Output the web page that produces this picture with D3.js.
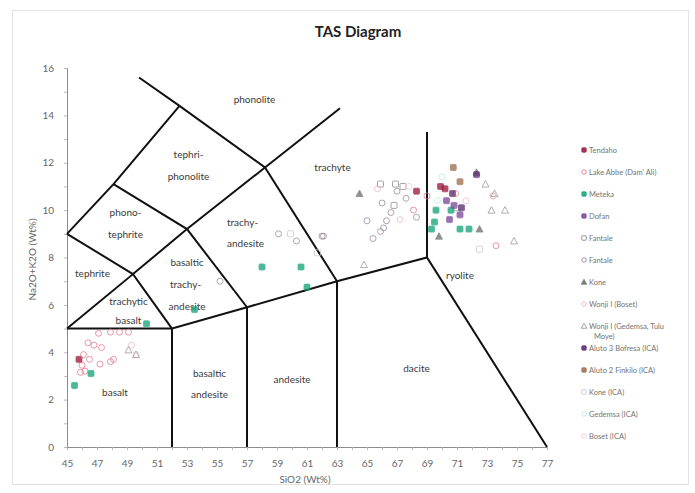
<!DOCTYPE html>
<html>
<head>
<meta charset="utf-8">
<script src="https://cdn.jsdelivr.net/npm/d3@7"></script>
<style>
  html, body { margin: 0; padding: 0; background: #fff; }
  svg { display: block; font-family: Lato, "Open Sans", sans-serif; }
</style>
</head>
<body>
<svg id="chart" width="695" height="493"></svg>
<script>
// Axis ticks
const xTicks = [45, 47, 49, 51, 53, 55, 57, 59, 61, 63, 65, 67, 69, 71, 73, 75, 77];
const yTicks = [0, 2, 4, 6, 8, 10, 12, 14, 16];

// TAS field boundaries (SiO2, Na2O+K2O)
const boundaries = [
  [[45, 5], [52, 5]],
  [[52, 0], [52, 5], [57, 5.9], [63, 7], [69, 8], [77, 0]],
  [[57, 0], [57, 5.9]],
  [[63, 0], [63, 7]],
  [[69, 8], [69, 13.3]],
  [[45, 5], [49.4, 7.3], [52, 5]],
  [[45, 9], [49.4, 7.3]],
  [[49.4, 7.3], [53, 9.2], [58.2, 11.8], [63.2, 14.3]],
  [[45, 9], [48.1, 11.1], [52.5, 14.4]],
  [[48.1, 11.1], [53, 9.2], [57, 5.9]],
  [[49.8, 15.6], [52.5, 14.4], [58.2, 11.8], [63, 7]]
];

// Rock field names
const fieldNames = ["phonolite", "tephri-", "phonolite", "phono-", "tephrite", "tephrite",
  "trachyte", "trachy-", "andesite", "basaltic", "trachy-", "andesite", "trachytic", "basalt",
  "basalt", "basaltic", "andesite", "andesite", "dacite", "ryolite"];
const fieldSiO2 = [57.5, 53.1, 53.1, 48.9, 48.9, 46.7, 62.7, 56.7, 56.9, 53.0, 52.9, 53.0, 49.1, 49.1,
  48.2, 54.5, 54.5, 60.0, 68.3, 71.2];
const fieldAlk = [14.65, 12.33, 11.4, 9.88, 8.99, 7.34, 11.78, 9.46, 8.61, 7.77, 6.84, 5.95, 6.16, 5.32,
  2.28, 3.12, 2.2, 2.83, 3.33, 7.26];

// Sample series
const seriesNames = ["Tendaho", "Lake Abbe (Dam' Ali)", "Meteka", "Dofan", "Fantale", "Fantale", "Kone",
  "Wonji I (Boset)", "Wonji I (Gedemsa, Tulu Moye)", "Aluto 3 Bofresa (ICA)", "Aluto 2 Finkilo (ICA)",
  "Kone (ICA)", "Gedemsa (ICA)", "Boset (ICA)"];
const seriesShapes = ["square", "circle", "square", "square", "square", "circle", "triangle",
  "circle", "triangle", "square", "square", "square", "circle", "circle"];
const seriesFilled = [true, false, true, true, false, false, true, false, false, true, true, false, false, false];
const seriesColors = ["#9e1c3c", "#e07890", "#18a67c", "#7d4a9c", "#8a8a8a", "#9a8a9a", "#707070",
  "#f0b8c4", "#9a9a9a", "#5e2f72", "#a07050", "#c8c8c8", "#b8ece0", "#f2c8d2"];

const tendaho = [[45.8, 3.7], [69.9, 11.0], [68.3, 10.8], [70.2, 10.9]];
const lakeAbbe = [[46.4, 4.4], [46.8, 4.3], [47.3, 4.2], [46.1, 3.9], [46.5, 3.7], [46.0, 3.45],
  [47.2, 3.5], [47.9, 3.6], [48.1, 3.7], [46.2, 3.2], [45.9, 3.15], [47.9, 4.85], [48.5, 4.85],
  [49.1, 4.85], [47.1, 4.8], [68.1, 10.0], [69.0, 10.6], [70.9, 10.7], [73.4, 10.6], [73.6, 8.5]];
const meteka = [[45.5, 2.6], [46.6, 3.1], [50.3, 5.2], [53.5, 5.8], [58.0, 7.6], [60.6, 7.6], [61.0, 6.75],
  [69.6, 10.0], [69.5, 9.5], [69.3, 9.2], [71.2, 9.2], [71.8, 9.2], [70.6, 10.0]];
const dofan = [[70.3, 10.4], [71.2, 9.8], [70.8, 10.2], [70.5, 9.6]];
const fantaleSq = [[66.9, 11.1], [65.9, 11.1], [66.8, 10.2], [67.4, 11.0]];
const fantaleCi = [[66.3, 9.55], [66.1, 9.25], [65.9, 9.1], [65.0, 9.55], [62.1, 8.9], [59.1, 9.0],
  [60.3, 8.7], [62.0, 8.9], [55.2, 7.0], [67.0, 10.8], [68.3, 9.7], [66.0, 10.3], [67.6, 10.5],
  [65.4, 8.8], [66.6, 9.9]];
const kone = [[72.5, 9.2], [72.3, 11.6], [64.5, 10.7], [69.8, 8.9]];
const wonjiBoset = [[49.3, 4.3], [49.6, 3.9], [65.7, 10.9], [67.2, 9.6], [71.6, 10.4]];
const wonjiGedemsa = [[73.3, 10.0], [74.2, 10.0], [73.5, 10.7], [74.8, 8.7], [49.1, 4.1], [49.6, 3.9],
  [64.8, 7.7], [72.9, 11.1], [71.0, 10.1]];
const aluto3 = [[72.3, 11.5], [70.7, 10.7], [71.3, 10.1]];
const aluto2 = [[70.75, 11.8], [71.2, 11.2]];
const koneIca = [[72.5, 8.35], [61.7, 8.2], [59.9, 9.0]];
const gedemsaIca = [[70.0, 11.4], [69.7, 10.4]];
const bosetIca = [[73.4, 10.6], [67.8, 11.0]];

const seriesData = [tendaho, lakeAbbe, meteka, dofan, fantaleSq, fantaleCi, kone, wonjiBoset,
  wonjiGedemsa, aluto3, aluto2, koneIca, gedemsaIca, bosetIca];

const svg = d3.select("#chart");

// Chart frame
svg.append("rect").attr("x", 12.5).attr("y", 10.5).attr("width", 676).attr("height", 474)
  .attr("fill", "#fff").attr("stroke", "#e2e2e2");

const x = d3.scaleLinear().domain([45, 77]).range([67, 547]);
const y = d3.scaleLinear().domain([0, 16]).range([447, 68]);

// Title
svg.append("text").attr("x", 358).attr("y", 37).attr("text-anchor", "middle")
  .attr("font-size", 15).attr("font-weight", "bold").attr("fill", "#222").text("TAS Diagram");

// Axes
const axisColor = "#8c8c8c";
const gx = svg.append("g").attr("transform", `translate(0,${y(0)})`)
  .call(d3.axisBottom(x).tickValues(d3.range(45, 78, 1)).tickSize(3)
    .tickFormat(d => xTicks.includes(d) ? d : ""));
const gy = svg.append("g").attr("transform", `translate(${x(45)},0)`)
  .call(d3.axisLeft(y).tickValues(d3.range(0, 17, 1)).tickSize(3)
    .tickFormat(d => yTicks.includes(d) ? d : ""));
[gx, gy].forEach(g => {
  g.select(".domain").attr("stroke", axisColor);
  g.selectAll(".tick line").attr("stroke", "#b8b8b8");
  g.selectAll(".tick text").attr("fill", "#666").attr("font-size", 10)
    .attr("font-family", "Lato, sans-serif");
});
gx.selectAll(".tick text").attr("y", 13).attr("dy", "0.71em");
gy.selectAll(".tick text").attr("x", -13);

svg.append("text").attr("x", 305).attr("y", 483).attr("text-anchor", "middle")
  .attr("font-size", 10).attr("fill", "#666").text("SiO2 (Wt%)");
svg.append("text").attr("transform", `translate(36,${(y(0) + y(16)) / 2 + 2}) rotate(-90)`)
  .attr("text-anchor", "middle").attr("font-size", 10).attr("fill", "#666").text("Na2O+K2O (Wt%)");

// Field boundaries
const line = d3.line().x(d => x(d[0])).y(d => y(d[1]));
svg.append("g").selectAll("path").data(boundaries).join("path")
  .attr("d", line).attr("fill", "none").attr("stroke", "#111").attr("stroke-width", 2)
  .attr("stroke-linejoin", "miter");

// Field names
svg.append("g").selectAll("text").data(fieldNames).join("text")
  .attr("x", (d, i) => x(fieldSiO2[i])).attr("y", (d, i) => y(fieldAlk[i]))
  .attr("dy", "0.35em").attr("text-anchor", "middle")
  .attr("font-size", 10).attr("fill", "#3a3a3a").text(d => d);

// Marker drawing
function drawMarker(sel, shape, filled, color, size) {
  const h = size / 2;
  let m;
  if (shape === "square") {
    m = sel.append("rect").attr("x", -h).attr("y", -h).attr("width", size).attr("height", size).attr("rx", 1);
  } else if (shape === "circle") {
    m = sel.append("circle").attr("r", h);
  } else {
    m = sel.append("path").attr("d", `M0,${-h - 0.5}L${h + 0.5},${h}L${-h - 0.5},${h}Z`);
  }
  m.attr("fill", filled ? color : "none").attr("stroke", color).attr("stroke-width", filled ? 0.8 : 1);
  return m;
}

// Sample points
const pts = svg.append("g");
seriesData.forEach((arr, si) => {
  arr.forEach(p => {
    const g = pts.append("g").attr("transform", `translate(${x(p[0])},${y(p[1])})`)
      .attr("opacity", 0.78);
    drawMarker(g, seriesShapes[si], seriesFilled[si], seriesColors[si], 6);
  });
});

// Legend
const legend = svg.append("g");
seriesNames.forEach((name, i) => {
  const ly = 150 + i * 22;
  const g = legend.append("g").attr("transform", `translate(584,${ly})`).attr("opacity", 0.9);
  drawMarker(g, seriesShapes[i], seriesFilled[i], seriesColors[i], 4.5);
  const t = g.append("text").attr("x", 5).attr("dy", "0.35em").attr("font-size", 7.5).attr("fill", "#666");
  if (name.length > 24) {
    const cut = name.lastIndexOf(" ");
    t.text(name.slice(0, cut));
    g.append("text").attr("x", 10).attr("y", 10).attr("dy", "0.35em").attr("font-size", 7.5)
      .attr("fill", "#666").text(name.slice(cut + 1));
  } else {
    t.text(name);
  }
});
</script>
</body>
</html>
